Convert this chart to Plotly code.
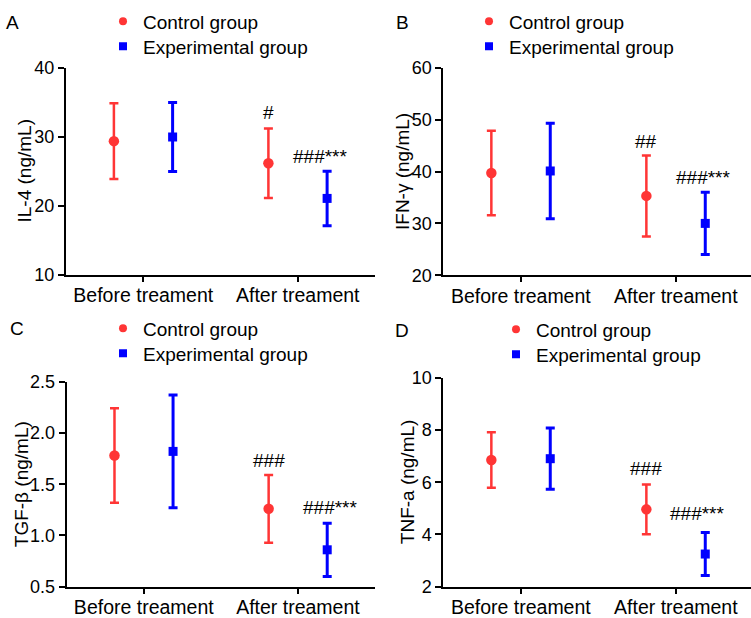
import plotly.graph_objects as go

# ---------------- data ----------------
categories = ["Before treament", "After treament"]
series_names = ["Control group", "Experimental group"]
panel_letters = ["A", "B", "C", "D"]
y_titles = ["IL-4 (ng/mL)", "IFN-γ (ng/mL)", "TGF-β (ng/mL)", "TNF-a (ng/mL)"]

il4_ctrl = [29.4, 26.2]
il4_ctrl_err = [5.5, 5.05]
il4_exp = [30.0, 21.1]
il4_exp_err = [5.0, 3.95]

ifn_ctrl = [39.7, 35.3]
ifn_ctrl_err = [8.15, 7.8]
ifn_exp = [40.1, 30.0]
ifn_exp_err = [9.2, 6.0]

tgf_ctrl = [1.78, 1.26]
tgf_ctrl_err = [0.46, 0.33]
tgf_exp = [1.82, 0.86]
tgf_exp_err = [0.55, 0.26]

tnf_ctrl = [6.85, 4.96]
tnf_ctrl_err = [1.06, 0.95]
tnf_exp = [6.90, 3.25]
tnf_exp_err = [1.17, 0.82]

ctrl_sig = ["#", "##", "###", "###"]
exp_sig = ["###***", "###***", "###***", "###***"]

y_ranges = [[10, 40], [20, 60], [0.5, 2.5], [2, 10]]
y_ticks = [[10, 20, 30, 40], [20, 30, 40, 50, 60],
           [0.5, 1.0, 1.5, 2.0, 2.5], [2, 4, 6, 8, 10]]
y_ticktext = [["10", "20", "30", "40"], ["20", "30", "40", "50", "60"],
              ["0.5", "1.0", "1.5", "2.0", "2.5"], ["2", "4", "6", "8", "10"]]

# ---------------- style / layout ----------------
W, H = 751, 618
RED = "#FF3535"
BLUE = "#0000FF"
FONT = "Arial, Liberation Sans, sans-serif"
DODGE = 0.19

# pixel boxes: (left, right, top, bottom)
boxes = [(66, 375, 68, 275), (443.3, 751, 67.7, 275.3),
         (66.7, 375, 381.7, 586.7), (443.3, 751, 377.7, 586.7)]
x_ranges = [[-0.5, 1.5], [-0.5, 1.485], [-0.5, 1.5], [-0.5, 1.485]]
letter_pos = [(13, 22), (402, 22), (17, 329), (402, 330)]
legend_marker_pos = [(122, 22), (488, 22), (122, 329), (515, 330)]
LEGEND_ROW = 25
ytitle_x = [24, 402.5, 21, 407]
exp_sig_xshift = [-7, -2, 3, -8]
exp_sig_yshift = [15, 15, 16, 19]
ctrl_sig_yshift = [16, 14, 14, 16]

data = [
    (il4_ctrl, il4_ctrl_err, il4_exp, il4_exp_err),
    (ifn_ctrl, ifn_ctrl_err, ifn_exp, ifn_exp_err),
    (tgf_ctrl, tgf_ctrl_err, tgf_exp, tgf_exp_err),
    (tnf_ctrl, tnf_ctrl_err, tnf_exp, tnf_exp_err),
]

fig = go.Figure()
annotations = []
layout = dict(
    width=W, height=H,
    margin=dict(l=0, r=0, t=0, b=0, pad=0, autoexpand=False),
    paper_bgcolor="white", plot_bgcolor="white",
    font=dict(family=FONT, size=19, color="black"),
    showlegend=True,
)

cat_idx = list(range(len(categories)))
colors = [RED, BLUE]
symbols = ["circle", "square"]

for i, (c_m, c_e, e_m, e_e) in enumerate(data):
    sfx = "" if i == 0 else str(i + 1)
    xa, ya = "x" + sfx, "y" + sfx
    L, R, T, B = boxes[i]

    fig.add_trace(go.Scatter(
        x=[k - DODGE for k in cat_idx], y=c_m, mode="markers",
        name=series_names[0], xaxis=xa, yaxis=ya, showlegend=False,
        marker=dict(color=RED, symbol="circle", size=10.5),
        error_y=dict(type="data", array=c_e, visible=True, color=RED,
                     thickness=2.5, width=4.5),
        cliponaxis=False,
    ))
    fig.add_trace(go.Scatter(
        x=[k + DODGE for k in cat_idx], y=e_m, mode="markers",
        name=series_names[1], xaxis=xa, yaxis=ya, showlegend=False,
        marker=dict(color=BLUE, symbol="square", size=9),
        error_y=dict(type="data", array=e_e, visible=True, color=BLUE,
                     thickness=3, width=4.5),
        cliponaxis=False,
    ))

    # legend entries: one legend per entry so rows sit exactly as in the figure
    mx, my = legend_marker_pos[i]
    for j in range(2):
        leg_id = "legend" + ("" if (2 * i + j) == 0 else str(2 * i + j + 1))
        fig.add_trace(go.Scatter(
            x=[None], y=[None], mode="markers", name=series_names[j],
            xaxis=xa, yaxis=ya, legend=leg_id, showlegend=True,
            marker=dict(color=colors[j], symbol=symbols[j], size=8),
        ))
        layout[leg_id] = dict(
            x=(mx - 19) / W, xanchor="left",
            y=1 - (my + j * LEGEND_ROW - 19.5) / H, yanchor="top",
            bgcolor="rgba(0,0,0,0)", borderwidth=0,
            font=dict(size=19, family=FONT, color="black"),
            itemclick=False, itemdoubleclick=False,
        )

    layout["xaxis" + sfx] = dict(
        domain=[L / W, R / W], range=x_ranges[i], anchor=ya,
        tickmode="array", tickvals=cat_idx, ticktext=categories,
        showline=True, linecolor="black", linewidth=2,
        ticks="outside", ticklen=5, tickwidth=2, tickcolor="black",
        ticklabelstandoff=-3,
        showgrid=False, zeroline=False, fixedrange=True,
        tickfont=dict(size=19.5, family=FONT, color="black"),
    )
    layout["yaxis" + sfx] = dict(
        domain=[1 - B / H, 1 - T / H], range=y_ranges[i], anchor=xa,
        tickmode="array", tickvals=y_ticks[i], ticktext=y_ticktext[i],
        showline=True, linecolor="black", linewidth=2,
        ticks="outside", ticklen=6, tickwidth=2, tickcolor="black",
        showgrid=False, zeroline=False, fixedrange=True,
        tickfont=dict(size=18, family=FONT, color="black"),
    )

    # panel letter
    lx, ly = letter_pos[i]
    annotations.append(dict(
        text=panel_letters[i], x=lx / W, y=1 - ly / H, xref="paper", yref="paper",
        xanchor="center", yanchor="middle", showarrow=False,
        font=dict(size=19, family=FONT, color="black")))
    # y title
    annotations.append(dict(
        text=y_titles[i], x=ytitle_x[i] / W, y=1 - (T + B) / 2 / H,
        xref="paper", yref="paper", textangle=-90,
        xanchor="center", yanchor="middle", showarrow=False,
        font=dict(size=19, family=FONT, color="black")))
    # significance marks (after treatment)
    annotations.append(dict(
        text=ctrl_sig[i], x=1 - DODGE, y=c_m[1] + c_e[1], xref=xa, yref=ya,
        xanchor="center", yanchor="middle", yshift=ctrl_sig_yshift[i],
        showarrow=False, font=dict(size=19, family=FONT, color="black")))
    annotations.append(dict(
        text=exp_sig[i], x=1 + DODGE, y=e_m[1] + e_e[1], xref=xa, yref=ya,
        xanchor="center", yanchor="middle", yshift=exp_sig_yshift[i],
        xshift=exp_sig_xshift[i],
        showarrow=False, font=dict(size=19, family=FONT, color="black")))

layout["annotations"] = annotations
fig.update_layout(**layout)
fig.write_html(
    "out.html",
    config={"displayModeBar": False},
    post_script="document.body.style.margin='0';"
                "document.documentElement.style.overflow='hidden';",
)
